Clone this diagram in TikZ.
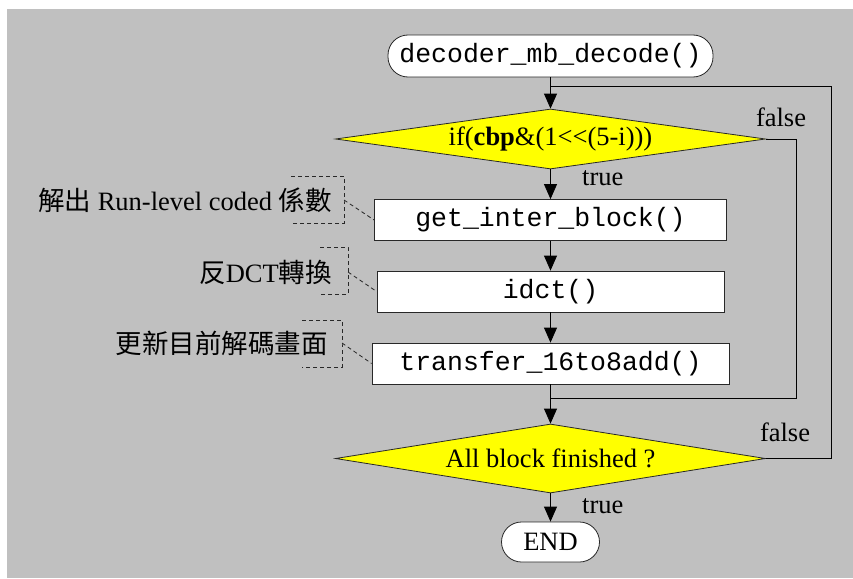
\documentclass[tikz,border=0pt]{standalone}
\usepackage{fontspec}
\setmainfont{Liberation Serif}
\setmonofont{Liberation Mono}
\newfontfamily\cjk{Noto Sans CJK TC}
\usetikzlibrary{arrows.meta,shapes.geometric}
\definecolor{panel}{RGB}{192,192,192}
\definecolor{ifyellow}{RGB}{255,255,0}
\definecolor{edge}{RGB}{40,40,40}

\begin{document}
\begin{tikzpicture}[x=1pt,y=-1pt,
  font=\fontsize{26.5}{30}\selectfont,
  terminal/.style={draw=edge, fill=white, line width=0.8pt, rounded corners=20pt,
    minimum height=42pt, inner sep=0pt},
  procbox/.style={draw=edge, fill=white, line width=0.8pt, minimum height=41pt,
    inner sep=0pt, font=\fontsize{26.5}{30}\selectfont\ttfamily},
  decision/.style={diamond, draw=edge, fill=ifyellow, line width=0.8pt, inner sep=0pt},
  flow/.style={draw=black, line width=0.8pt, -{Triangle[length=15pt,width=13pt]}},
  link/.style={draw=black, line width=0.8pt},
  note/.style={inner sep=0pt, anchor=east},
  notebox/.style={draw=edge, line width=0.8pt, dash pattern=on 4pt off 3pt},
  lbl/.style={inner sep=0pt}
]
\useasboundingbox (0,0) rectangle (853,578);
\fill[panel] (7,9) rectangle (853,578);

% flow chart nodes
\node[terminal, minimum width=325pt, font=\fontsize{26.5}{30}\selectfont\ttfamily]
  (start) at (550.5,56) {decoder\_mb\_decode()};
\node[decision, shape aspect=7.17, minimum width=430pt, minimum height=60pt]
  (d1) at (550.5,139) {if(\textbf{cbp}\&(1<{}<(5-i)))};
\node[procbox, minimum width=352pt] (b1) at (550.5,220) {get\_inter\_block()};
\node[procbox, minimum width=347pt] (b2) at (550.5,291.5) {idct()};
\node[procbox, minimum width=357pt] (b3) at (550.5,363.5) {transfer\_16to8add()};
\node[decision, shape aspect=6.23, minimum width=430pt, minimum height=69pt]
  (d2) at (550.5,458.5) {All block finished ?};
\node[terminal, minimum width=98pt, minimum height=40pt] (end) at (550.5,542) {END};

% junction points of the two loops
\coordinate (j2) at (550.5,86);
\coordinate (r2) at (831,86);
\coordinate (j1) at (550.5,398);
\coordinate (r1) at (796,398);

% main flow
\draw[flow] (start.south) -- (d1.north);
\draw[flow] (d1.south) -- (b1.north);
\draw[flow] (b1.south) -- (b2.north);
\draw[flow] (b2.south) -- (b3.north);
\draw[flow] (b3.south) -- (d2.north);
\draw[flow] (d2.south) -- (end.north);

% false branches
\draw[link] (d1.east) -| (r1) -- (j1);
\draw[link] (d2.east) -| (r2) -- (j2);

% branch labels
\node[lbl, anchor=west] (t1) at (582,178) {true};
\node[lbl] (f1) at (781,117) {false};
\node[lbl] (f2) at (785,432) {false};
\node[lbl, anchor=west] (t2) at (582,506) {true};

% side notes
\node[note] (n1) at (332,200) {{\cjk 解出} Run-level coded {\cjk 係數}};
\node[note] (n2) at (332,272) {{\cjk 反}DCT{\cjk 轉換}};
\node[note] (n3) at (328,343) {\cjk 更新目前解碼畫面};

\coordinate (k1) at (344,200);
\coordinate (k2) at (348,272);
\coordinate (k3) at (342,343);

\draw[notebox] (291,176) -| (k1) |- (291,223);
\draw[notebox] (320,247) -| (k2) |- (320,294);
\draw[notebox] (302,320) -| (k3) |- (302,367);

\draw[notebox] (k1) -- (b1.west);
\draw[notebox] (k2) -- (b2.west);
\draw[notebox] (k3) -- (b3.west);
\end{tikzpicture}
\end{document}
